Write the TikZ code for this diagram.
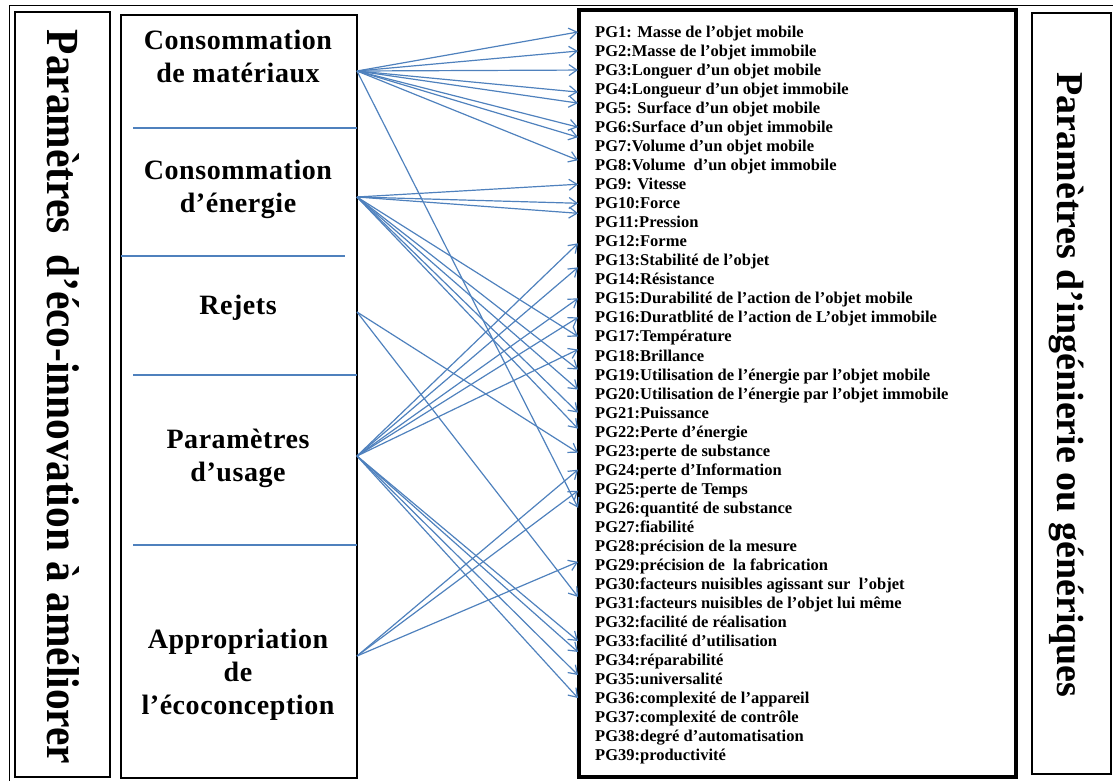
\documentclass[tikz,border=0pt]{standalone}
\usepackage{fontspec}
\setmainfont{Liberation Serif}
\usetikzlibrary{arrows.meta}
\definecolor{linkblue}{RGB}{79,129,189}
\begin{document}
\begin{tikzpicture}[x=1pt,y=-1pt,
  panel/.style={draw=black, line width=#1, inner sep=0pt},
  catlabel/.style={align=center, inner sep=0pt,
    font=\bfseries\fontsize{28}{33}\selectfont\addfontfeature{LetterSpace=2}},
  pgitem/.style={anchor=west, inner xsep=17pt, inner ysep=0pt,
    text height=11pt, text depth=0pt,
    font=\bfseries\fontsize{16.5}{19}\selectfont},
  vtitle/.style={rotate=-90, anchor=base, inner sep=0pt},
  divider/.style={draw=linkblue, line width=1.3pt},
  link/.style={draw=linkblue, line width=1.2pt,
    -{Straight Barb[length=8pt,width=11pt,line width=1.2pt]}}
]
\useasboundingbox (0,0) rectangle (1113,781);

% outer thin frame
\draw[line width=0.8pt] (9,781) -- (9,5) -- (1113,5);

% panels
\node[panel=2.5pt, minimum width=95pt, minimum height=765pt] (box1) at (62.5,394.5) {};
\node[panel=2.5pt, minimum width=236pt, minimum height=763pt] (box2) at (239,396.5) {};
\node[panel=4pt, minimum width=437pt, minimum height=767pt] (box3) at (797.5,393.5) {};
\node[panel=2.5pt, minimum width=79pt, minimum height=761pt] (box4) at (1071.5,393.5) {};

% vertical titles
\node[vtitle, font=\bfseries\fontsize{46}{46}\selectfont] (lefttitle) at (47,397)
  {\scalebox{0.9}[1]{Paramètres\ \ d’éco-innovation à améliorer}};
\node[vtitle, font=\bfseries\fontsize{38}{38}\selectfont] (righttitle) at (1057,385)
  {Paramètres d’ingénierie ou génériques};

% category dividers
\draw[divider] (133,128) -- (357,128);
\draw[divider] (121,256) -- (345,256);
\draw[divider] (133,375) -- (357,375);
\draw[divider] (133,545) -- (357,545);

% categories
\node[catlabel] (m1) at (238,56.5) {Consommation\\de matériaux};
\node[catlabel] (m2) at (238,189) {Consommation\\d’énergie};
\node[catlabel] (m3) at (238,308) {Rejets};
\node[catlabel] (m4) at (238,458.5) {Paramètres\\d’usage};
\node[catlabel] (m5) at (238,675) {Appropriation\\de\\l’écoconception};

% arrow sources on the right side of the category panel
\coordinate (s1) at (357,71);
\coordinate (s2) at (357,197);
\coordinate (s3) at (357,312);
\coordinate (s4) at (357,456);
\coordinate (s5) at (357,656);

% generic parameters
\foreach \t [count=\i] in {
  PG1: Masse de l’objet mobile,
  PG2:Masse de l’objet immobile,
  PG3:Longuer d’un objet mobile,
  PG4:Longueur d’un objet immobile,
  PG5: Surface d’un objet mobile,
  PG6:Surface d’un objet immobile,
  PG7:Volume d’un objet mobile,
  PG8:Volume\ \ d’un objet immobile,
  PG9: Vitesse,
  PG10:Force,
  PG11:Pression,
  PG12:Forme,
  PG13:Stabilité de l’objet,
  PG14:Résistance,
  PG15:Durabilité de l’action de l’objet mobile,
  PG16:Duratblité de l’action de L’objet immobile,
  PG17:Température,
  PG18:Brillance,
  PG19:Utilisation de l’énergie par l’objet mobile,
  PG20:Utilisation de l’énergie par l’objet immobile,
  PG21:Puissance,
  PG22:Perte d’énergie,
  PG23:perte de substance,
  PG24:perte d’Information,
  PG25:perte de Temps,
  PG26:quantité de substance,
  PG27:fiabilité,
  PG28:précision de la mesure,
  PG29:précision de\ \ la fabrication,
  PG30:facteurs nuisibles agissant sur\ \ l’objet,
  PG31:facteurs nuisibles de l’objet lui même,
  PG32:facilité de réalisation,
  PG33:facilité d’utilisation,
  PG34:réparabilité,
  PG35:universalité,
  PG36:complexité de l’appareil,
  PG37:complexité de contrôle,
  PG38:degré d’automatisation,
  PG39:productivité}
  \node[pgitem] (pg\i) at (578,{32+19.03*(\i-1)}) {\t};

% links: target / vertical offset of the arrow tip
\foreach \t/\s in {1/0,2/0,3/0,4/-3,5/5,6/0,7/9,8/5,26/0}
  \draw[link] (s1) -- ([yshift=\s pt]pg\t.west);
\foreach \t/\s in {9/0,10/0,11/9,17/0,19/5,20/4,21/0,22/3}
  \draw[link] (s2) -- ([yshift=\s pt]pg\t.west);
\foreach \t/\s in {23/-2,31/6}
  \draw[link] (s3) -- ([yshift=\s pt]pg\t.west);
\foreach \t/\s in {12/-2,13/-7,15/0,16/0,18/6,33/0,34/8,35/4,36/0}
  \draw[link] (s4) -- ([yshift=\s pt]pg\t.west);
\foreach \t/\s in {24/0,25/-2,29/3}
  \draw[link] (s5) -- ([yshift=\s pt]pg\t.west);
\end{tikzpicture}
\end{document}
